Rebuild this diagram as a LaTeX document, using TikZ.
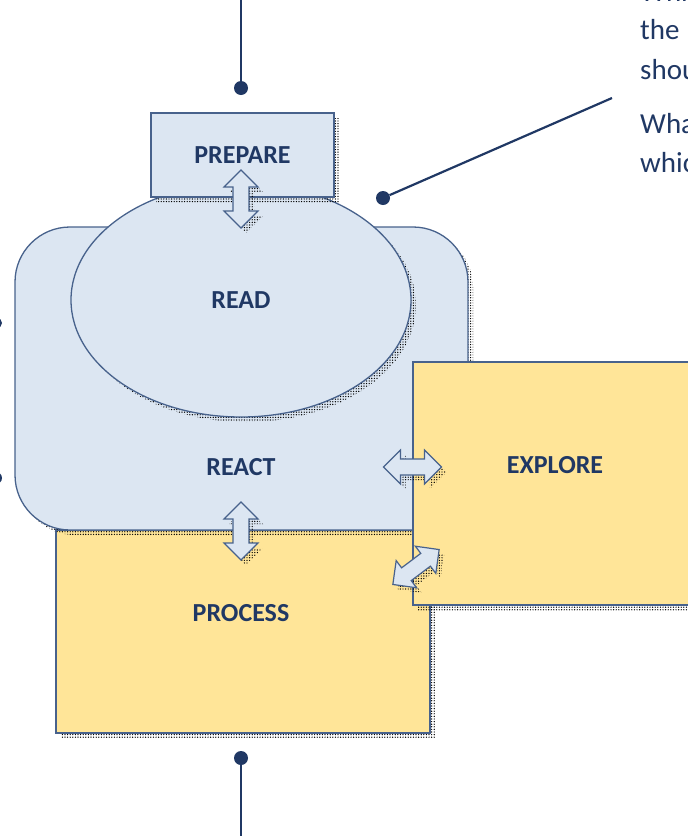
\documentclass[tikz,border=0pt]{standalone}
\usepackage{fontspec}
\setmainfont{Carlito}
\usetikzlibrary{shapes.geometric,shadows,patterns}
\definecolor{lblue}{HTML}{DCE6F2}
\definecolor{edge}{HTML}{48628C}
\definecolor{sand}{HTML}{FFE598}
\definecolor{navy}{HTML}{203864}
\pgfdeclarepatternformonly{stipple}{\pgfqpoint{-1pt}{-1pt}}{\pgfqpoint{1pt}{1pt}}{\pgfqpoint{2.6pt}{2.6pt}}{%
  \pgfpathcircle{\pgfqpoint{0pt}{0pt}}{0.7pt}\pgfusepath{fill}}
\begin{document}
\begin{tikzpicture}[x=1pt,y=-1pt,
  shad/.style={general shadow={pattern=stipple, pattern color=black, shadow xshift=5pt, shadow yshift=-5pt}},
  bluebox/.style={draw=edge, line width=1.3pt, fill=lblue, shad},
  sandbox/.style={draw=edge, line width=1.3pt, fill=sand, shad},
  lbl/.style={text=navy, font=\fontsize{26}{30}\selectfont\bfseries},
  rtext/.style={text=navy, font=\fontsize{29}{40}\selectfont, anchor=base west, inner sep=0pt},
  dotnode/.style={circle, fill=navy, inner sep=0pt, minimum size=14pt},
  conn/.style={draw=navy, line width=2.6pt},
  blockarrow/.style={draw=edge, line width=1.2pt, fill=lblue, shad}
]
\useasboundingbox (0,0) rectangle (688,836);
\clip (0,0) rectangle (688,836);

% PROCESS box (bottom layer)
\node[sandbox, rectangle, minimum width=374pt, minimum height=203pt, inner sep=0pt] (processbox) at (243,631.5) {};
\node[lbl] (process) at (241,613) {PROCESS};

% REACT rounded box
\node[bluebox, rectangle, rounded corners=55pt, minimum width=453pt, minimum height=303pt, inner sep=0pt] (reactbox) at (241.5,378.5) {};
\node[lbl] (react) at (241,467) {REACT};

% READ ellipse
\node[bluebox, ellipse, minimum width=340pt, minimum height=234pt, inner sep=0pt, lbl] (read) at (241,300) {READ};

% PREPARE box
\node[bluebox, rectangle, minimum width=183pt, minimum height=84pt, inner sep=0pt, lbl] (prepare) at (242.5,155) {PREPARE};

% EXPLORE box
\node[sandbox, rectangle, minimum width=290pt, minimum height=243pt, inner sep=0pt] (explorebox) at (558,483.5) {};
\node[lbl] (explore) at (555,465) {EXPLORE};

% double block arrows
\newcommand{\dblarrow}{(-29,0) -- (-12,-17) -- (-12,-8) -- (12,-8) -- (12,-17) -- (29,0) -- (12,17) -- (12,8) -- (-12,8) -- (-12,17) -- cycle}
\path[blockarrow, shift={(241,199)}, rotate=90] \dblarrow;
\path[blockarrow, shift={(241,531)}, rotate=90] \dblarrow;
\path[blockarrow, shift={(412.5,467)}] \dblarrow;
\path[blockarrow, shift={(416,567)}, rotate=37] \dblarrow;

% connectors with dots
\node[dotnode] (topdot) at (241,88) {};
\coordinate (topend) at (241,-5);
\draw[conn] (topend) -- (topdot);

\node[dotnode] (botdot) at (241,758) {};
\coordinate (botend) at (241,845);
\draw[conn] (botdot) -- (botend);

\node[dotnode] (rdot) at (383,198) {};
\coordinate (rend) at (612,98);
\draw[conn, line width=2.2pt] (rdot) -- (rend);

\node[dotnode, minimum size=10pt] (ldot1) at (-3,323) {};
\node[dotnode, minimum size=12pt] (ldot2) at (-4,478) {};

% right text (cut off by the frame, as in the reference)
\node[rtext] (t0) at (640,1) {Which};
\node[rtext] (t1) at (640,39) {the};
\node[rtext] (t2) at (640,79) {should};
\node[rtext] (t3) at (640,133) {What};
\node[rtext] (t4) at (640,172) {which};
\end{tikzpicture}
\end{document}
